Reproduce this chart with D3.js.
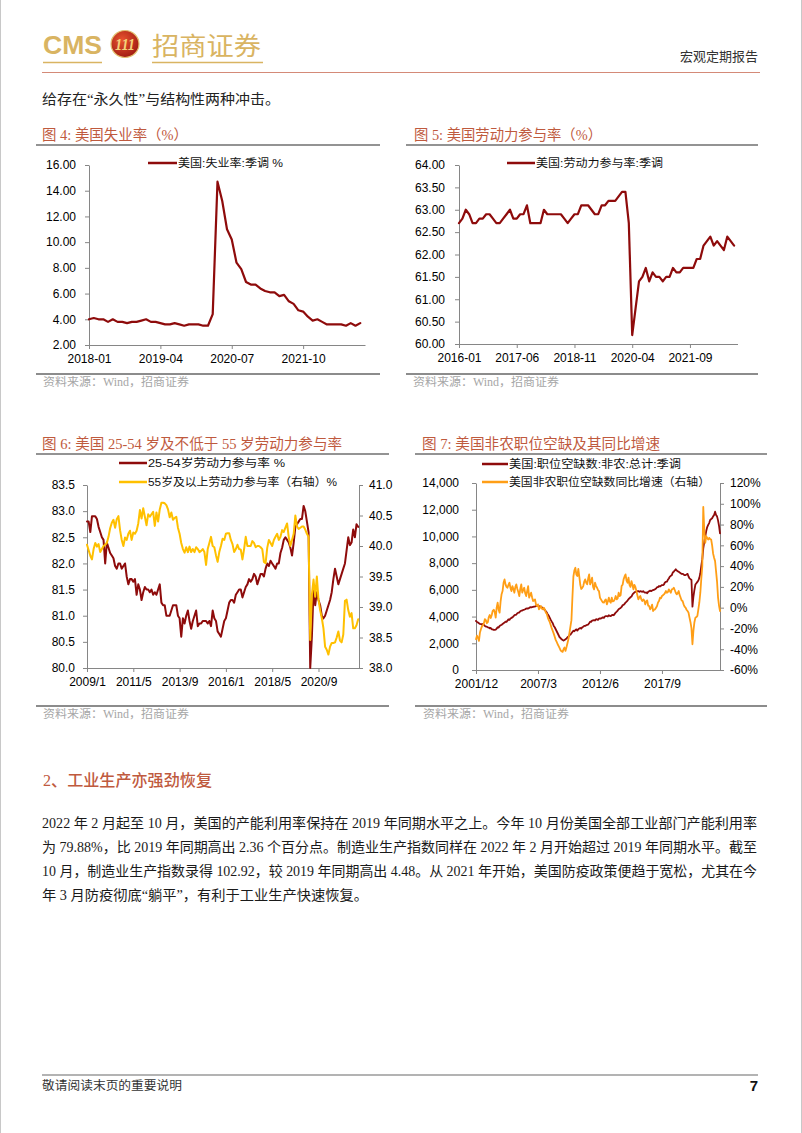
<!DOCTYPE html>
<html><head><meta charset="utf-8">
<script src="https://cdn.jsdelivr.net/npm/d3@7"></script>
<style>
html,body{margin:0;padding:0;background:#fff;}
svg{display:block;}
</style></head><body>
<svg id="page" width="802" height="1133"></svg>
<script>
// ================= DATA =================
// Fig 4: US unemployment rate, SA (%), monthly from 2018-01
const unempStart = [2018, 1];
const unempValues = [
  4.0,4.1,4.0,4.0,3.8,4.0,3.8,3.8,3.7,3.8,3.8,3.9,
  4.0,3.8,3.8,3.7,3.6,3.6,3.7,3.6,3.5,3.6,3.6,3.6,
  3.5,3.5,4.4,14.7,13.2,11.0,10.2,8.4,7.9,6.9,6.7,6.7,
  6.4,6.2,6.1,6.1,5.8,5.9,5.4,5.2,4.7,4.6,4.2,3.9,
  4.0,3.8,3.6,3.6,3.6,3.6,3.5,3.7,3.5,3.7];
const unempTickLabels = ["2018-01","2019-04","2020-07","2021-10"];
const unempYTicks = [2,4,6,8,10,12,14,16];

// Fig 5: US labor force participation rate, SA (%), monthly from 2016-01
const lfprStart = [2016, 1];
const lfprValues = [
  62.7,62.8,63.0,62.9,62.7,62.7,62.8,62.8,62.9,62.9,62.8,62.7,
  62.7,62.8,62.9,63.0,62.8,62.8,62.9,62.9,63.1,62.7,62.7,62.7,
  62.7,63.0,62.9,62.9,62.9,62.9,62.9,62.8,62.7,62.8,62.9,62.9,
  63.1,63.1,63.1,63.0,62.9,62.9,63.1,63.1,63.2,63.2,63.2,63.3,
  63.4,63.4,62.7,60.2,60.8,61.4,61.5,61.7,61.4,61.6,61.5,61.5,
  61.4,61.5,61.5,61.7,61.6,61.6,61.7,61.7,61.7,61.7,61.9,61.9,
  62.2,62.3,62.4,62.2,62.3,62.2,62.1,62.4,62.3,62.2];
const lfprTickLabels = ["2016-01","2017-06","2018-11","2020-04","2021-09"];
const lfprYTicks = [60,60.5,61,61.5,62,62.5,63,63.5,64];

// Fig 6: LFPR 25-54 (left) and 55+ (right), monthly from 2009-01
const ageStart = [2009, 1];
const prime2554 = [
  82.8,82.8,82.6,82.9,82.9,82.9,82.85,82.7,82.6,82.5,82.45,82.0,
  82.4,82.3,82.2,82.15,82.1,81.95,81.9,82.0,82.0,81.9,81.95,82.0,
  81.75,81.6,81.7,81.7,81.65,81.7,81.4,81.6,81.5,81.3,81.45,81.55,
  81.5,81.5,81.45,81.5,81.4,81.45,81.4,81.5,81.6,81.25,81.2,81.2,
  81.0,81.0,81.0,81.1,81.2,81.2,81.2,81.0,80.95,80.6,80.95,80.85,
  81.0,81.1,80.9,80.75,80.9,81.0,81.1,80.8,80.85,80.85,80.9,80.9,
  80.9,80.85,80.9,80.8,81.1,80.95,80.9,80.7,80.65,80.6,80.75,80.9,
  80.95,81.1,81.25,81.3,81.3,81.25,81.4,81.45,81.5,81.5,81.35,81.45,
  81.55,81.6,81.7,81.65,81.7,81.8,81.75,81.6,81.7,81.8,81.8,81.75,
  81.9,82.0,81.95,82.05,82.0,81.95,81.9,82.0,82.0,82.2,82.3,82.45,
  82.5,82.45,82.4,82.3,82.15,82.4,82.7,82.75,82.8,82.85,82.85,83.1,
  83.0,82.8,82.6,80.0,80.6,81.5,81.2,81.45,81.3,81.2,81.0,80.95,
  81.0,81.1,81.2,81.3,81.45,81.7,81.9,81.75,81.6,81.7,81.8,81.9,
  82.0,82.25,82.5,82.35,82.4,82.65,82.5,82.75,82.7];
const over55 = [
  40.02,39.93,39.84,39.78,39.95,40.05,39.99,40.03,39.9,39.95,40.0,40.02,
  40.05,40.15,40.29,40.38,40.43,40.3,40.44,40.49,40.26,40.1,40.0,40.14,
  40.1,40.2,40.25,40.1,40.22,40.2,40.25,40.37,40.59,40.45,40.62,40.48,
  40.34,40.52,40.48,40.52,40.56,40.33,40.55,40.4,40.6,40.71,40.71,40.7,
  40.67,40.6,40.47,40.55,40.43,40.46,40.48,40.3,40.2,40.05,39.95,39.89,
  39.98,39.9,39.99,39.9,39.95,39.9,39.98,39.95,39.9,39.92,39.95,39.9,
  39.69,39.95,40.05,40.15,40.0,39.98,39.85,39.74,39.9,40.0,40.12,40.1,
  40.2,40.21,40.21,40.1,40.03,39.9,39.95,40.02,39.95,39.94,39.78,39.95,
  40.15,40.0,40.0,40.0,40.08,40.05,39.98,40.0,40.0,39.98,39.95,39.74,
  39.72,39.97,40.1,40.05,40.0,40.1,40.15,40.2,40.1,40.15,40.26,40.23,
  40.3,40.37,40.15,40.0,40.1,40.2,40.5,40.32,40.28,40.3,40.32,40.32,
  40.27,40.2,40.15,38.46,39.2,39.45,39.17,39.5,39.12,38.95,38.82,38.65,
  38.35,38.3,38.22,38.35,38.41,38.41,38.42,38.5,38.6,38.45,38.42,38.55,
  39.1,39.12,38.95,38.84,38.9,38.65,38.65,38.7,38.8];
const ageTickLabels = ["2009/1","2011/5","2013/9","2016/1","2018/5","2020/9"];
const ageLeftTicks = [80,80.5,81,81.5,82,82.5,83,83.5];
const ageRightTicks = [38,38.5,39,39.5,40,40.5,41];

// Fig 7: nonfarm job openings (thousands, left) and YoY % (right), monthly from 2001-12
const joltsStart = [2001, 12];
const openings = [
  3.67,
  3.6,3.55,3.5,3.45,3.44,3.4,3.45,3.38,3.3,3.25,3.24,3.2,
  3.18,3.12,3.15,3.05,3.04,3.0,3.0,3.02,3.1,3.2,3.18,3.3,
  3.35,3.37,3.45,3.5,3.55,3.62,3.6,3.7,3.79,3.75,3.85,3.9,
  3.94,4.0,4.1,4.12,4.15,4.25,4.29,4.3,4.4,4.44,4.45,4.5,
  4.52,4.55,4.6,4.62,4.6,4.65,4.7,4.68,4.7,4.72,4.74,4.75,
  4.8,4.78,4.8,4.78,4.75,4.72,4.69,4.6,4.55,4.49,4.4,4.3,
  4.15,4.05,3.9,3.75,3.62,3.5,3.3,3.2,3.05,2.9,2.75,2.6,
  2.45,2.38,2.3,2.25,2.2,2.25,2.3,2.35,2.45,2.5,2.6,2.65,
  2.75,2.85,2.94,2.9,3.0,3.04,2.95,3.05,3.1,3.15,3.1,3.2,
  3.24,3.3,3.3,3.35,3.38,3.4,3.5,3.62,3.6,3.7,3.72,3.74,
  3.7,3.8,3.79,3.75,3.85,3.87,3.85,3.9,3.94,3.9,4.0,4.04,
  4.04,4.0,4.1,4.05,4.04,4.1,4.12,4.1,4.2,4.3,4.37,4.45,
  4.55,4.6,4.65,4.72,4.85,4.87,4.95,5.05,5.12,5.2,5.3,5.37,
  5.45,5.5,5.65,5.74,5.8,5.85,5.86,5.9,5.91,5.85,5.9,5.88,
  5.85,5.9,5.82,5.8,5.81,5.75,5.85,5.9,5.94,5.9,5.95,5.99,
  6.0,6.05,6.1,6.2,6.2,6.29,6.25,6.3,6.36,6.35,6.4,6.55,
  6.6,6.61,6.75,6.85,6.99,7.05,7.1,7.3,7.36,7.45,7.54,7.45,
  7.4,7.35,7.3,7.25,7.19,7.2,7.15,7.1,7.11,7.15,7.2,7.0,
  6.86,6.8,6.74,4.74,5.5,5.99,6.4,6.5,6.6,6.7,6.9,7.24,
  7.8,8.3,9.1,9.6,9.98,10.4,10.7,10.86,11.0,11.23,11.3,11.36,
  11.5,11.6,11.85,11.6,11.5,11.2,10.8,10.23].map(v => v * 1000);
const openingsYoY = [
  -30.4,
  -27,-29,-32,-24,-20.8,-18,-17,-15,-11,-12,-15,-14,
  -9,-7,-10,-7,-3,-2,-4,-9.6,0,4.8,-2,-4.8,
  6,13,16,24,27.2,22.4,20,19.2,22,24,19,16,
  20.8,18,14.4,20,22.4,18,15,11.2,18,22.4,14.4,17,
  19.2,14,11.2,16,20.8,9.6,12,14.4,10,6.4,7,8,
  3,1.6,3.2,-1.6,0,1.6,-1,-1.6,0,-2,-4.8,-6,
  -9.6,-12,-14,-17,-20,-22.4,-25,-28,-31,-33,-35.2,-37,
  -39,-41,-42,-42.6,-40,-38.4,-41.6,-38,-34,-30,-24,-18,
  -12,10,30,36,38.4,32,30.4,37.4,30,22,18,19,
  20.8,25,27.2,24,22.4,28,32,22.4,25,28.8,20,17.6,
  24,21,19.2,17,16,9.6,8,6.4,5,4.8,7,8,
  3.2,6,9.6,6,4.8,9.6,6,6.4,8,11.2,8,9,
  14.4,11.2,12,20.8,22,27.2,30,32,26,24,28.8,22,
  20,25.6,22,17.6,22,20,16,12,8,10,11.2,8,
  6.4,8,7,3.2,6,7,2,1.6,-1.6,0,3,-3.2,
  -2,-1.6,0,1.6,5,6.4,9.6,9,11.2,12,12.8,14,
  16,14.4,15,17.6,16,14.4,17.6,18,19.2,17,14.4,12.8,
  14,16,12,9.6,7,6.4,3.2,1,0,-2,-3.2,-4.8,
  -9.6,-14,-20,-35.2,-22,-14,-9.6,-9,-8,-1.6,5,14.4,
  28,40,97,75,62.4,68.8,67,65.6,67.2,66,65.6,60,
  52,48,44.8,35,25,10,2,-3.2];
const joltsTickLabels = ["2001/12","2007/3","2012/6","2017/9"];
const joltsLeftTicks = [0,2000,4000,6000,8000,10000,12000,14000];
const joltsRightTicks = [-60,-40,-20,0,20,40,60,80,100,120];

// ================= DRAWING =================
const svg = d3.select('#page');
const SERIF = '"Liberation Serif","Noto Sans CJK SC",serif';
const SANS = '"Liberation Sans","Noto Sans CJK SC",sans-serif';
const CJK = '"Noto Sans CJK SC",sans-serif';
const TITLE_C = '#BF5A3E';
const GOLD = '#D9B462';
const DARKRED = '#8E0B0B';

function txt(x, y, s, o) {
  const t = svg.append('text').attr('x', x).attr('y', y).text(s)
    .attr('font-family', o.family || SERIF).attr('font-size', o.size || 13)
    .attr('fill', o.fill || '#222');
  if (o.weight) t.attr('font-weight', o.weight);
  if (o.anchor) t.attr('text-anchor', o.anchor);
  if (o.len) t.attr('textLength', o.len).attr('lengthAdjust', 'spacingAndGlyphs');
  if (o.style) t.attr('font-style', o.style);
  return t;
}
function hline(x1, x2, y, color, w) {
  svg.append('line').attr('x1', x1).attr('x2', x2).attr('y1', y).attr('y2', y)
    .attr('stroke', color).attr('stroke-width', w);
}

// page edges
svg.append('line').attr('x1',0.5).attr('x2',0.5).attr('y1',0).attr('y2',1133).attr('stroke','#c8c8c8');
svg.append('line').attr('x1',801.5).attr('x2',801.5).attr('y1',0).attr('y2',1133).attr('stroke','#c8c8c8');

// ---- header ----
txt(43, 54, 'CMS', {family: SANS, size: 25, weight: 'bold', fill: GOLD, len: 59});
const defs = svg.append('defs');
const rg = defs.append('radialGradient').attr('id','logoG').attr('cx','40%').attr('cy','35%').attr('r','70%');
rg.append('stop').attr('offset','0%').attr('stop-color','#E8532E');
rg.append('stop').attr('offset','100%').attr('stop-color','#9E1A12');
svg.append('ellipse').attr('cx', 125).attr('cy', 44).attr('rx', 14).attr('ry', 13.5)
  .attr('fill', 'url(#logoG)').attr('stroke', '#E3C070').attr('stroke-width', 1.2);
txt(125, 50, '111', {family: SERIF, size: 16, weight: 'bold', fill: '#F3D27A', anchor: 'middle', style: 'italic', len: 20});
txt(152, 55, '招商证券', {family: CJK, size: 25, fill: GOLD, len: 109});
hline(43, 102, 62.5, GOLD, 1.5);
hline(152, 263, 62.5, GOLD, 1.5);
txt(680, 61, '宏观定期报告', {family: CJK, size: 13, fill: '#333', len: 78});
hline(42, 760, 72.5, '#D48A78', 1);
txt(42, 104, '给存在“永久性”与结构性两种冲击。', {family: SERIF, size: 14, fill: '#222', len: 238});

// ---- chart helper ----
function monthIndex(start, label) {
  const p = label.split(/[-\/]/).map(Number);
  return (p[0] - start[0]) * 12 + (p[1] - start[1]);
}
function styleAxis(g) {
  g.selectAll('path,line').attr('stroke', '#868686').attr('stroke-width', 1);
  g.selectAll('text').attr('font-family', '"Liberation Sans",Arial,sans-serif')
    .attr('font-size', 12).attr('fill', '#000');
}
function chart(opt) {
  const x = d3.scaleLinear().domain([0, opt.xMax]).range(opt.xRange);
  const yB = opt.yRange[0];
  const yL = d3.scaleLinear().domain(opt.left.domain).range(opt.yRange);
  const yR = opt.right ? d3.scaleLinear().domain(opt.right.domain).range(opt.yRange) : null;
  const idx = opt.tickLabels.map(l => monthIndex(opt.start, l));
  const gx = svg.append('g').attr('transform', `translate(0,${yB})`)
    .call(d3.axisBottom(x).tickValues(idx).tickFormat((d, i) => opt.tickLabels[i])
      .tickSize(4).tickSizeOuter(0).tickPadding(opt.xPad || 5));
  styleAxis(gx);
  const gl = svg.append('g').attr('transform', `translate(${opt.xRange[0]},0)`)
    .call(d3.axisLeft(yL).tickValues(opt.left.ticks).tickFormat(opt.left.fmt)
      .tickSize(4).tickSizeOuter(0).tickPadding(opt.left.pad));
  styleAxis(gl);
  if (yR) {
    const gr = svg.append('g').attr('transform', `translate(${opt.xRange[1]},0)`)
      .call(d3.axisRight(yR).tickValues(opt.right.ticks).tickFormat(opt.right.fmt)
        .tickSize(4).tickSizeOuter(0).tickPadding(opt.right.pad));
    styleAxis(gr);
  }
  opt.series.forEach(s => {
    const ys = s.axis === 'right' ? yR : yL;
    const line = d3.line().x((d, i) => x(i)).y(d => ys(d));
    svg.append('path').datum(s.values).attr('d', line).attr('fill', 'none')
      .attr('stroke', s.color).attr('stroke-width', s.width || 2)
      .attr('stroke-linejoin', 'round').attr('stroke-linecap', 'round');
  });
  opt.legend.forEach(l => {
    svg.append('line').attr('x1', l.x1).attr('x2', l.x2).attr('y1', l.y).attr('y2', l.y)
      .attr('stroke', l.color).attr('stroke-width', 2.5);
    txt(l.x2 + 1, l.y + 4, l.text, {family: SANS, size: 11.5, fill: '#111', len: l.len});
  });
}
function frame(o) {
  txt(o.tx, o.ty, o.title, {family: SERIF, size: 14.5, fill: TITLE_C, len: o.tlen});
  hline(o.l1[0], o.l1[1], o.l1[2], '#6f6f6f', 1.4);
  hline(o.l2[0], o.l2[1], o.l2[2], '#8c8c8c', 2);
  txt(o.sx, o.sy, '资料来源：Wind，招商证券', {family: SERIF, size: 11.5, fill: '#a6a6a6', len: 146});
}

// ---- Fig 4 ----
frame({title: '图 4:  美国失业率（%）', tx: 42, ty: 140, tlen: 146,
  l1: [36, 380, 145], l2: [36, 380, 374], sx: 43, sy: 386});
chart({
  start: unempStart, xMax: 58, xRange: [89, 365], yRange: [345, 165],
  tickLabels: unempTickLabels,
  left: {domain: [2, 16], ticks: unempYTicks, fmt: d3.format('.2f'), pad: 9},
  series: [{values: unempValues, color: DARKRED, width: 2.2}],
  legend: [{x1: 148, x2: 177, y: 163, color: DARKRED, text: '美国:失业率:季调 %', len: 105}]
});

// ---- Fig 5 ----
frame({title: '图 5:  美国劳动力参与率（%）', tx: 414, ty: 140, tlen: 188,
  l1: [406, 758, 145], l2: [406, 758, 374], sx: 413, sy: 386});
chart({
  start: lfprStart, xMax: 82, xRange: [459, 737.5], yRange: [344, 165],
  tickLabels: lfprTickLabels,
  left: {domain: [60, 64], ticks: lfprYTicks, fmt: d3.format('.2f'), pad: 10},
  series: [{values: lfprValues, color: DARKRED, width: 2.2}],
  legend: [{x1: 507, x2: 535, y: 163, color: DARKRED, text: '美国:劳动力参与率:季调', len: 127}]
});

// ---- Fig 6 ----
frame({title: '图 6:  美国 25-54 岁及不低于 55 岁劳动力参与率', tx: 42, ty: 449, tlen: 300,
  l1: [36, 389, 454], l2: [36, 389, 706], sx: 43, sy: 718});
chart({
  start: ageStart, xMax: 164.5, xRange: [87, 359], yRange: [668, 485],
  tickLabels: ageTickLabels,
  left: {domain: [80, 83.5], ticks: ageLeftTicks, fmt: d3.format('.1f'), pad: 8},
  right: {domain: [38, 41], ticks: ageRightTicks, fmt: d3.format('.1f'), pad: 6},
  series: [{values: prime2554, color: DARKRED, width: 2},
           {values: over55, axis: 'right', color: '#FFC000', width: 2}],
  legend: [{x1: 119, x2: 147, y: 463, color: DARKRED, text: '25-54岁劳动力参与率 %', len: 137},
           {x1: 119, x2: 147, y: 482, color: '#FFC000', text: '55岁及以上劳动力参与率（右轴）%', len: 189}]
});

// ---- Fig 7 ----
frame({title: '图 7:  美国非农职位空缺及其同比增速', tx: 422, ty: 449, tlen: 238,
  l1: [415, 767, 454], l2: [415, 767, 706], sx: 423, sy: 718});
chart({
  start: joltsStart, xMax: 248, xRange: [476, 720], yRange: [670, 483],
  tickLabels: joltsTickLabels,
  left: {domain: [0, 14000], ticks: joltsLeftTicks, fmt: d3.format(','), pad: 13},
  right: {domain: [-60, 120], ticks: joltsRightTicks, fmt: d => d + '%', pad: 6},
  series: [{values: openings, color: DARKRED, width: 1.8},
           {values: openingsYoY, axis: 'right', color: '#FF9E16', width: 1.8}],
  legend: [{x1: 482, x2: 508, y: 464, color: DARKRED, text: '美国:职位空缺数:非农:总计:季调', len: 172},
           {x1: 482, x2: 508, y: 482, color: '#FF9E16', text: '美国非农职位空缺数同比增速（右轴）', len: 201}]
});

// ---- section text ----
txt(43, 786, '2、工业生产亦强劲恢复', {family: SERIF, size: 16, fill: TITLE_C, weight: '500', len: 169});
const para = [
  ['2022 年 2 月起至 10 月，美国的产能利用率保持在 2019 年同期水平之上。今年 10 月份美国全部工业部门产能利用率', 715],
  ['为 79.88%，比 2019 年同期高出 2.36 个百分点。制造业生产指数同样在 2022 年 2 月开始超过 2019 年同期水平。截至', 715],
  ['10 月，制造业生产指数录得 102.92，较 2019 年同期高出 4.48。从 2021 年开始，美国防疫政策便趋于宽松，尤其在今', 715],
  ['年 3 月防疫彻底“躺平”，有利于工业生产快速恢复。', 326]
];
const paraY = [828, 852, 876, 900];
para.forEach((p, i) => txt(42, paraY[i], p[0], {family: SERIF, size: 14, fill: '#1a1a1a', len: p[1]}));

// ---- footer ----
hline(42, 758, 1075, '#9a9a9a', 1.5);
txt(42, 1090, '敬请阅读末页的重要说明', {family: CJK, size: 12, fill: '#333', len: 140});
txt(758, 1091, '7', {family: SANS, size: 15, weight: 'bold', fill: '#111', anchor: 'end'});
</script>
</body></html>
